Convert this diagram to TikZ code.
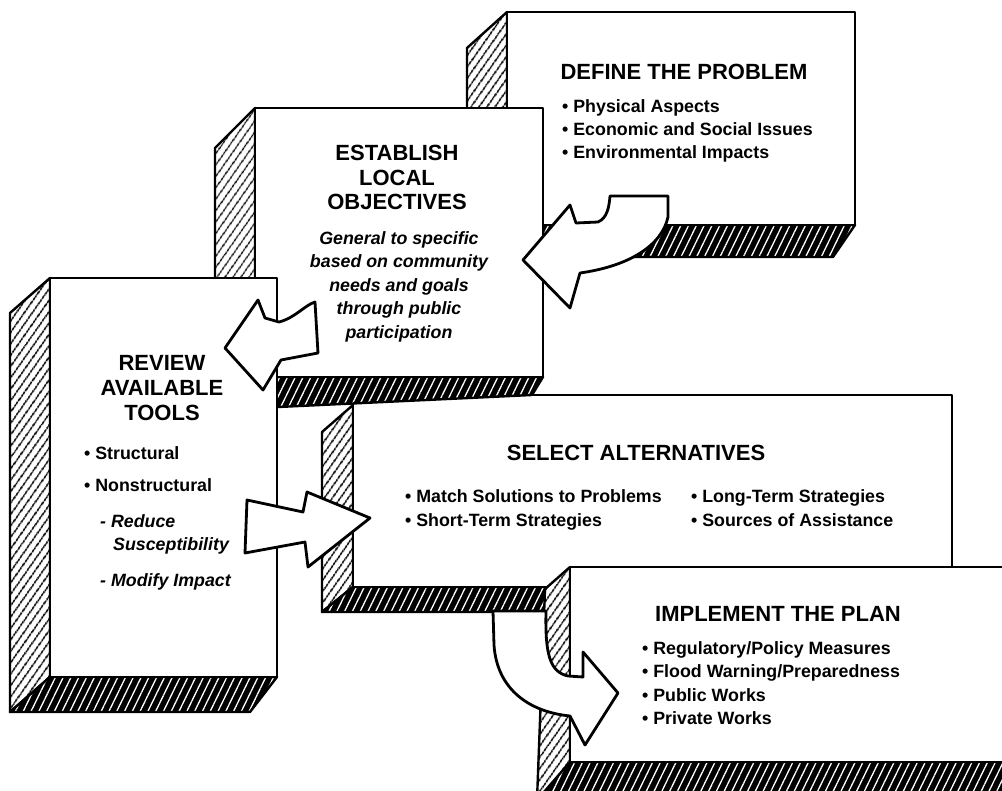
\documentclass[tikz,border=0pt]{standalone}
\usepackage{fontspec}
\setmainfont{Liberation Sans}
\usetikzlibrary{patterns.meta}

\newcommand\cardtitle{\fontsize{22}{25}\selectfont\bfseries}
\newcommand\cardtext{\fontsize{17.8}{23}\selectfont\bfseries}
\newcommand\cardslant{\fontsize{17.8}{23}\selectfont\bfseries\itshape}

\tikzset{
  frontface/.style={draw=black, line width=2.8pt, fill=white, line join=round},
  hatchside/.style={draw=black, line width=2.4pt, line join=round,
    preaction={fill=white},
    pattern={Lines[angle=55,distance=6.5pt,line width=1.8pt]}, pattern color=black},
  hatchbase/.style={draw=black, line width=2.4pt, line join=round,
    preaction={fill=black},
    pattern={Lines[angle=64,distance=7pt,line width=1.3pt]}, pattern color=white},
  blockarrow/.style={draw=black, line width=2.8pt, fill=white, line join=round},
  cardhead/.style={font=\cardtitle, inner sep=0pt, text height=16pt, text depth=0pt},
  carditem/.style={font=\cardtext, inner sep=0pt, anchor=west, text height=12.5pt, text depth=3.5pt},
  cardnote/.style={font=\cardslant, inner sep=0pt, text height=12.5pt, text depth=3.5pt},
}

\begin{document}
\begin{tikzpicture}[x=1pt,y=-1pt]
\useasboundingbox (0,0) rectangle (1002,791);
\fill[white] (0,0) rectangle (1002,791);
\clip (0,0) rectangle (1002,791);

% ---- Select alternatives (behind the others)
\draw[hatchside] (353,405) -- (322,432) -- (322,612) -- (353,587) -- cycle;
\draw[hatchbase] (353,587) -- (600,587) -- (600,612) -- (322,612) -- cycle;
\draw[frontface] (353,395) rectangle (952,587);
\node[cardhead] (selT) at (636,453) {SELECT ALTERNATIVES};
\node[carditem] (sel1) at (405,498) {\textbullet\ Match Solutions to Problems};
\node[carditem] (sel2) at (405,522) {\textbullet\ Short-Term Strategies};
\node[carditem] (sel3) at (691,498) {\textbullet\ Long-Term Strategies};
\node[carditem] (sel4) at (691,522) {\textbullet\ Sources of Assistance};

% ---- Implement the plan
\draw[hatchside] (570,567) -- (545,589) -- (537,800) -- (570,800) -- cycle;
\draw[hatchbase] (570,762) -- (1010,762) -- (1010,800) -- (537,800) -- cycle;
\draw[frontface] (570,567) rectangle (1010,762);
\node[cardhead] (impT) at (778,613) {IMPLEMENT THE PLAN};
\node[carditem] (imp1) at (642,650) {\textbullet\ Regulatory/Policy Measures};
\node[carditem] (imp2) at (642,673) {\textbullet\ Flood Warning/Preparedness};
\node[carditem] (imp3) at (642,697) {\textbullet\ Public Works};
\node[carditem] (imp4) at (642,720) {\textbullet\ Private Works};

% ---- Define the problem
\draw[hatchside] (507,12) -- (467,48) -- (467,257) -- (507,225) -- cycle;
\draw[hatchbase] (507,225) -- (855,225) -- (833,257) -- (467,257) -- cycle;
\draw[frontface] (507,12) rectangle (855,225);
\node[cardhead] (defT) at (684,72) {DEFINE THE PROBLEM};
\node[carditem] (def1) at (562,108) {\textbullet\ Physical Aspects};
\node[carditem] (def2) at (562,131) {\textbullet\ Economic and Social Issues};
\node[carditem] (def3) at (562,154) {\textbullet\ Environmental Impacts};

% ---- Establish local objectives
\draw[hatchside] (255,108) -- (215,148) -- (215,410) -- (255,377) -- cycle;
\draw[hatchbase] (255,377) -- (543,377) -- (532,395) -- (215,410) -- cycle;
\draw[frontface] (255,108) rectangle (543,377);
\node[cardhead] (estT1) at (397,153) {ESTABLISH};
\node[cardhead] (estT2) at (397,178) {LOCAL};
\node[cardhead] (estT3) at (397,202) {OBJECTIVES};
\node[cardnote] (est1) at (399,240) {General to specific};
\node[cardnote] (est2) at (399,263) {based on community};
\node[cardnote] (est3) at (399,287) {needs and goals};
\node[cardnote] (est4) at (399,310) {through public};
\node[cardnote] (est5) at (399,334) {participation};

% ---- Review available tools
\draw[hatchside] (50,278) -- (10,313) -- (10,712) -- (50,677) -- cycle;
\draw[hatchbase] (50,677) -- (277,677) -- (250,712) -- (10,712) -- cycle;
\draw[frontface] (50,278) rectangle (277,677);
\node[cardhead] (revT1) at (162,363) {REVIEW};
\node[cardhead] (revT2) at (162,388) {AVAILABLE};
\node[cardhead] (revT3) at (162,413) {TOOLS};
\node[carditem] (rev1) at (84,455) {\textbullet\ Structural};
\node[carditem] (rev2) at (84,487) {\textbullet\ Nonstructural};
\node[cardnote, anchor=west] (rev3) at (100,523) {- Reduce};
\node[cardnote, anchor=west] (rev4) at (113,546) {Susceptibility};
\node[cardnote, anchor=west] (rev5) at (100,582) {- Modify Impact};

% ---- Block arrows between the steps
% define -> establish
\draw[blockarrow] (610,196) -- (668,196) -- (668,217)
  .. controls (662,245) and (630,266) .. (580,273)
  -- (570,308) -- (523,260) -- (570,205) -- (576,223) -- (598,222)
  .. controls (607,218) and (609,208) .. (610,196) -- cycle;
% establish -> review
\draw[blockarrow] (225,348) -- (258,300) -- (265,318) -- (279,322)
  .. controls (295,318) and (305,305) .. (315,302)
  -- (318,353) -- (281,360) -- (263,390) -- cycle;
% review -> select
\draw[blockarrow] (247,500) -- (303,512) -- (307,492) -- (370,518)
  -- (308,567) -- (305,542) -- (245,553) -- cycle;
% select -> implement
\draw[blockarrow] (493,611) -- (494,645)
  .. controls (497,690) and (530,712) .. (570,716)
  -- (585,745) -- (618,693) -- (583,652) -- (583,677) -- (568,676)
  .. controls (550,672) and (545,655) .. (546,611) -- cycle;
\end{tikzpicture}
\end{document}
